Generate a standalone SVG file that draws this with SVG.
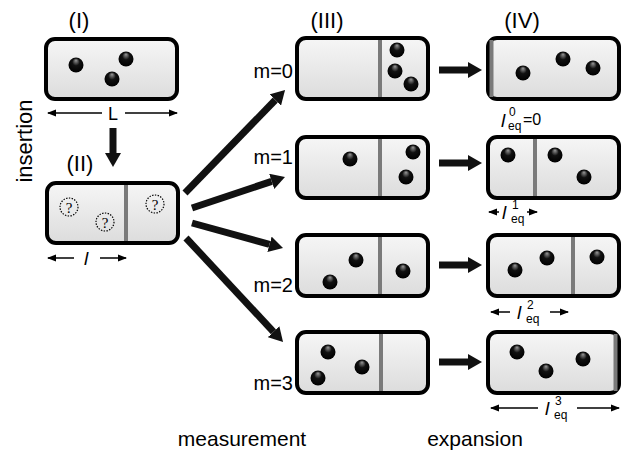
<svg xmlns="http://www.w3.org/2000/svg" width="628" height="456" viewBox="0 0 628 456">
  <defs>
    <linearGradient id="boxFill" x1="0" y1="0" x2="0" y2="1">
      <stop offset="0" stop-color="#f6f6f6"/>
      <stop offset="1" stop-color="#dcdcdc"/>
    </linearGradient>
    <radialGradient id="ballFill" cx="0.5" cy="0.45" r="0.55" fx="0.5" fy="0.18">
      <stop offset="0" stop-color="#9a9a9a"/>
      <stop offset="0.45" stop-color="#111"/>
      <stop offset="1" stop-color="#000"/>
    </radialGradient>
    <marker id="bigHead" viewBox="0 -8 14 16" refX="0" refY="0" markerWidth="14" markerHeight="16" markerUnits="userSpaceOnUse" orient="auto">
      <path d="M0,-8 L14,0 L0,8 z" fill="#111"/>
    </marker>
    <marker id="thinHead" viewBox="0 -4 9 8" refX="8" refY="0" markerWidth="9" markerHeight="8" markerUnits="userSpaceOnUse" orient="auto">
      <path d="M0,-3.5 L9,0 L0,3.5 z" fill="#000"/>
    </marker>
    <style>
      .box { fill: url(#boxFill); stroke: #000; stroke-width: 4; }
      .ball { fill: url(#ballFill); }
      .wall { stroke: #7a7a7a; stroke-width: 4; }
      .unk { fill: none; stroke: #000; stroke-width: 1.2; stroke-dasharray: 1.4 1.4; }
      .q { font-family: "Liberation Serif", serif; font-size: 15px; text-anchor: middle; fill: #000; }
      .big { stroke: #111; stroke-width: 7; fill: none; marker-end: url(#bigHead); }
      .thin { stroke: #000; stroke-width: 1.5; fill: none; marker-end: url(#thinHead); }
      .lbl { font-family: "Liberation Sans", Arial, sans-serif; fill: #000; }
      .stage { font-size: 22px; text-anchor: middle; }
      .mlab { font-size: 20px; text-anchor: end; }
      .cap { font-size: 21px; text-anchor: middle; }
      .eq { font-family: "Liberation Sans", Arial, sans-serif; font-size: 12px; fill: #000; }
      .ell { font-style: italic; font-size: 19px; }
      .rest { font-size: 16px; }
    </style>
  </defs>

  <!-- stage headings and captions -->
  <text class="lbl stage" x="79" y="28">(I)</text>
  <text class="lbl stage" x="80" y="171">(II)</text>
  <text class="lbl stage" x="327" y="28">(III)</text>
  <text class="lbl stage" x="522" y="28">(IV)</text>
  <text class="lbl" font-size="22" text-anchor="middle" transform="translate(32,141) rotate(-90)">insertion</text>
  <text class="lbl cap" x="242" y="446">measurement</text>
  <text class="lbl cap" x="475" y="446">expansion</text>

  <!-- (I) box of length L -->
  <g id="box-I">
    <rect class="box" x="46" y="39" width="131" height="60" rx="9"/>
    <circle class="ball" cx="76" cy="65" r="7.5"/>
    <circle class="ball" cx="126" cy="59" r="7.5"/>
    <circle class="ball" cx="112" cy="79" r="7.5"/>
    <line class="thin" x1="102" y1="113" x2="48" y2="113"/>
    <line class="thin" x1="125" y1="113" x2="177" y2="113"/>
    <text class="lbl" font-size="18" text-anchor="middle" x="113" y="120">L</text>
  </g>

  <!-- (II) partition inserted, particle positions unknown -->
  <g id="box-II">
    <rect class="box" x="47" y="183" width="131" height="60" rx="9"/>
    <line class="wall" x1="126" y1="185" x2="126" y2="241"/>
    <circle class="unk" cx="69" cy="207" r="9"/>
    <text class="q" x="69" y="212.5">?</text>
    <circle class="unk" cx="105" cy="222" r="9"/>
    <text class="q" x="105" y="227.5">?</text>
    <circle class="unk" cx="155" cy="204" r="9"/>
    <text class="q" x="155" y="209.5">?</text>
    <line class="thin" x1="74" y1="258" x2="48" y2="258"/>
    <line class="thin" x1="100" y1="258" x2="126" y2="258"/>
    <text class="eq ell" x="84" y="265">l</text>
  </g>

  <!-- (III) measurement outcomes -->
  <g id="box-III-m0">
    <rect class="box" x="297" y="38" width="131" height="61" rx="9"/>
    <line class="wall" x1="380" y1="40" x2="380" y2="97"/>
    <circle class="ball" cx="397" cy="50" r="7.5"/>
    <circle class="ball" cx="395" cy="71" r="7.5"/>
    <circle class="ball" cx="411" cy="84" r="7.5"/>
    <text class="lbl mlab" x="293" y="78">m=0</text>
  </g>
  <g id="box-III-m1">
    <rect class="box" x="297" y="137" width="131" height="61" rx="9"/>
    <line class="wall" x1="380" y1="139" x2="380" y2="196"/>
    <circle class="ball" cx="350" cy="159" r="7.5"/>
    <circle class="ball" cx="413" cy="152" r="7.5"/>
    <circle class="ball" cx="406" cy="177" r="7.5"/>
    <text class="lbl mlab" x="293" y="164">m=1</text>
  </g>
  <g id="box-III-m2">
    <rect class="box" x="297" y="235" width="131" height="61" rx="9"/>
    <line class="wall" x1="380" y1="237" x2="380" y2="294"/>
    <circle class="ball" cx="330" cy="282" r="7.5"/>
    <circle class="ball" cx="356" cy="260" r="7.5"/>
    <circle class="ball" cx="403" cy="271" r="7.5"/>
    <text class="lbl mlab" x="293" y="292">m=2</text>
  </g>
  <g id="box-III-m3">
    <rect class="box" x="297" y="332" width="131" height="61" rx="9"/>
    <line class="wall" x1="381" y1="334" x2="381" y2="391"/>
    <circle class="ball" cx="328" cy="352" r="7.5"/>
    <circle class="ball" cx="318" cy="378" r="7.5"/>
    <circle class="ball" cx="362" cy="367" r="7.5"/>
    <text class="lbl mlab" x="293" y="390">m=3</text>
  </g>

  <!-- (IV) after expansion, with equilibrium lengths -->
  <g id="box-IV-m0">
    <rect class="box" x="488" y="38" width="131" height="61" rx="9"/>
    <line class="wall" x1="491.5" y1="40" x2="491.5" y2="97"/>
    <circle class="ball" cx="523" cy="73" r="7.5"/>
    <circle class="ball" cx="563" cy="59" r="7.5"/>
    <circle class="ball" cx="593" cy="68" r="7.5"/>
    <text class="eq"><tspan class="ell" x="501" y="127">l</tspan><tspan x="509" y="116">0</tspan><tspan x="508" y="130">eq</tspan><tspan class="rest" x="523" y="125">=0</tspan></text>
  </g>
  <g id="box-IV-m1">
    <rect class="box" x="488" y="137" width="131" height="61" rx="9"/>
    <line class="wall" x1="535" y1="139" x2="535" y2="196"/>
    <circle class="ball" cx="508" cy="155" r="7.5"/>
    <circle class="ball" cx="555" cy="155" r="7.5"/>
    <circle class="ball" cx="584" cy="177" r="7.5"/>
    <line class="thin" x1="499" y1="212" x2="489" y2="212"/>
    <line class="thin" x1="527" y1="212" x2="537" y2="212"/>
    <text class="eq"><tspan class="ell" x="502" y="219">l</tspan><tspan x="512" y="209">1</tspan><tspan x="511" y="223">eq</tspan></text>
  </g>
  <g id="box-IV-m2">
    <rect class="box" x="488" y="235" width="131" height="61" rx="9"/>
    <line class="wall" x1="573" y1="237" x2="573" y2="294"/>
    <circle class="ball" cx="515" cy="270" r="7.5"/>
    <circle class="ball" cx="547" cy="258" r="7.5"/>
    <circle class="ball" cx="597" cy="257" r="7.5"/>
    <line class="thin" x1="510" y1="312" x2="491" y2="312"/>
    <line class="thin" x1="550" y1="312" x2="568" y2="312"/>
    <text class="eq"><tspan class="ell" x="517" y="319">l</tspan><tspan x="527" y="309">2</tspan><tspan x="526" y="323">eq</tspan></text>
  </g>
  <g id="box-IV-m3">
    <rect class="box" x="488" y="332" width="131" height="61" rx="9"/>
    <line class="wall" x1="615.5" y1="334" x2="615.5" y2="391"/>
    <circle class="ball" cx="517" cy="352" r="7.5"/>
    <circle class="ball" cx="546" cy="371" r="7.5"/>
    <circle class="ball" cx="583" cy="359" r="7.5"/>
    <line class="thin" x1="538" y1="408" x2="491" y2="408"/>
    <line class="thin" x1="577" y1="408" x2="619" y2="408"/>
    <text class="eq"><tspan class="ell" x="545" y="415">l</tspan><tspan x="555" y="405">3</tspan><tspan x="554" y="419">eq</tspan></text>
  </g>

  <!-- process arrows -->
  <g id="connectors">
    <line class="big" x1="113" y1="128" x2="113" y2="153"/>
    <line class="big" x1="185" y1="193" x2="275.3" y2="100"/>
    <line class="big" x1="192" y1="208" x2="271.7" y2="181.4"/>
    <line class="big" x1="192" y1="223" x2="269.5" y2="244.3"/>
    <line class="big" x1="186" y1="238" x2="273.5" y2="331.8"/>
    <line class="big" x1="439" y1="70" x2="468" y2="70"/>
    <line class="big" x1="439" y1="163" x2="468" y2="163"/>
    <line class="big" x1="439" y1="265" x2="468" y2="265"/>
    <line class="big" x1="439" y1="362" x2="468" y2="362"/>
  </g>
</svg>
